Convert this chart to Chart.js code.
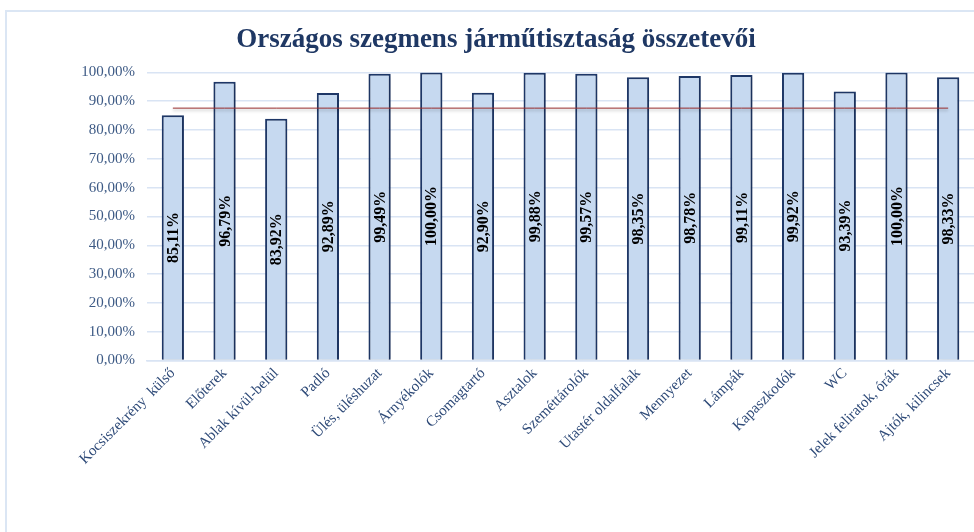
<!DOCTYPE html>
<html>
<head>
<meta charset="utf-8">
<script src="https://cdn.jsdelivr.net/npm/chart.js@4/dist/chart.umd.min.js"></script>
<style>
  html, body { margin: 0; padding: 0; background: #ffffff; }
  #wrap { position: relative; width: 974px; height: 532px; overflow: hidden; }
  #frame { position: absolute; left: 5px; top: 10px; width: 1100px; height: 700px; border-left: 2px solid #dbe6f4; border-top: 2px solid #dbe6f4; }
  canvas { position: absolute; left: 0; top: 0; }
</style>
</head>
<body>
<div id="wrap">
  <div id="frame"></div>
  <canvas id="c" width="974" height="532"></canvas>
</div>
<script>
const categories = ["Kocsiszekrény  külső", "Előterek", "Ablak kívül-belül", "Padló", "Ülés, üléshuzat", "Árnyékolók", "Csomagtartó", "Asztalok", "Szeméttárolók", "Utastér oldalfalak", "Mennyezet", "Lámpák", "Kapaszkodók", "WC", "Jelek feliratok, órák", "Ajtók, kilincsek"];
const values = [85.11, 96.79, 83.92, 92.89, 99.49, 100.00, 92.90, 99.88, 99.57, 98.35, 98.78, 99.11, 99.92, 93.39, 100.00, 98.33];
const targetValue = 87.6;
const targetLine = categories.map(() => targetValue);
const yTicks = [0, 10, 20, 30, 40, 50, 60, 70, 80, 90, 100];
const titleText = "Országos szegmens járműtisztaság összetevői";

const fmt = v => v.toFixed(2).replace('.', ',') + '%';

const shadows = {
  id: 'shadows',
  beforeDatasetDraw(chart, args) {
    const ctx = chart.ctx;
    ctx.save();
    if (args.index === 0) {
      ctx.shadowColor = 'rgba(0,0,0,0.3)';
      ctx.shadowBlur = 3;
      ctx.shadowOffsetY = 2;
    } else {
      ctx.shadowColor = 'rgba(0,0,0,0.2)';
      ctx.shadowBlur = 3;
      ctx.shadowOffsetX = 1;
      ctx.shadowOffsetY = 1;
    }
  },
  afterDatasetDraw(chart) {
    chart.ctx.restore();
  }
};

const barLabels = {
  id: 'barLabels',
  afterDatasetsDraw(chart) {
    const meta = chart.getDatasetMeta(1);
    const ctx = chart.ctx;
    ctx.save();
    ctx.font = 'bold 16px "Liberation Serif", "Times New Roman", serif';
    ctx.fillStyle = '#000000';
    ctx.textAlign = 'center';
    ctx.textBaseline = 'middle';
    meta.data.forEach((el, i) => {
      const cy = (el.y + el.base) / 2;
      ctx.save();
      ctx.translate(el.x + 1, cy);
      ctx.rotate(-Math.PI / 2);
      ctx.fillText(fmt(values[i]), 0, 0);
      ctx.restore();
    });
    ctx.restore();
  }
};

new Chart(document.getElementById('c'), {
  data: {
    labels: categories,
    datasets: [
      {
        type: 'line',
        data: targetLine,
        borderColor: '#9a2e2e',
        borderWidth: 1,
        pointRadius: 0,
        fill: false,
        order: 0
      },
      {
        type: 'bar',
        data: values,
        backgroundColor: '#c6d9f0',
        borderColor: '#1f3868',
        borderWidth: 2,
        categoryPercentage: 1,
        barPercentage: 0.43,
        order: 1
      }
    ]
  },
  options: {
    responsive: false,
    animation: false,
    layout: { padding: { left: 18, right: 0, top: 14, bottom: 60 } },
    plugins: {
      legend: { display: false },
      tooltip: { enabled: false },
      title: {
        display: true,
        text: titleText,
        color: '#1f3864',
        font: { family: '"Liberation Serif", "Times New Roman", serif', size: 27, weight: 'bold' },
        padding: { top: 10, bottom: 16 }
      }
    },
    scales: {
      x: {
        grid: { display: false, drawTicks: false },
        border: { display: true, color: '#d9e4f4', width: 1.5 },
        ticks: {
          color: '#2e4a78',
          font: { family: '"Liberation Serif", "Times New Roman", serif', size: 15 },
          maxRotation: 45,
          minRotation: 45,
          autoSkip: false,
          padding: 4
        }
      },
      y: {
        min: 0,
        max: 100,
        afterFit(scale) { scale.width = 129; },
        afterBuildTicks(scale) { scale.ticks = yTicks.map(v => ({ value: v })); },
        grid: { color: '#d9e4f4', lineWidth: 1.5, drawTicks: false },
        border: { display: false },
        ticks: {
          color: '#3d5a85',
          font: { family: '"Liberation Serif", "Times New Roman", serif', size: 15 },
          padding: 12,
          callback: v => fmt(v)
        }
      }
    }
  },
  plugins: [shadows, barLabels]
});
</script>
</body>
</html>
